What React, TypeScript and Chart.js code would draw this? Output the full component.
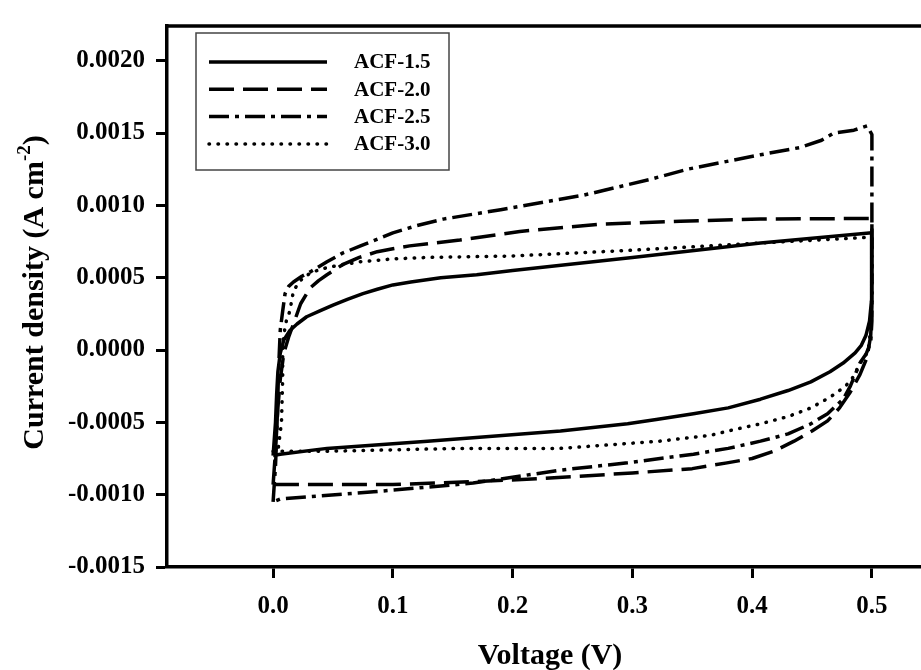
import React, { useEffect, useRef } from "react";
import { Chart, registerables } from "chart.js";

Chart.register(...registerables);

// ---- data ----
const seriesLabels = ["ACF-1.5", "ACF-2.0", "ACF-2.5", "ACF-3.0"];
const voltageTicks = [0, 0.1, 0.2, 0.3, 0.4, 0.5];
const currentTicks = [-0.0015, -0.001, -0.0005, 0, 0.0005, 0.001, 0.0015, 0.002];

const acf15Voltage = [0, 0.002, 0.003, 0.004, 0.006, 0.009, 0.014, 0.02, 0.028, 0.039, 0.05, 0.062, 0.075, 0.087, 0.1, 0.115, 0.14, 0.17, 0.2, 0.3, 0.407, 0.5,
  0.5, 0.4995, 0.498, 0.495, 0.491, 0.486, 0.476, 0.465, 0.449, 0.43, 0.407, 0.38, 0.351, 0.32, 0.296, 0.24, 0.129, 0.045, 0.006, 0];
const acf15Current = [-0.00073, -0.0005, -0.0003, -0.00015, -0.00002, 0.00007, 0.000135, 0.00018, 0.00023, 0.00027, 0.00031, 0.00035, 0.00039, 0.00042, 0.00045, 0.00047, 0.0005, 0.00052, 0.00055, 0.00064, 0.00074, 0.00081,
  0.0006, 0.00035, 0.0002, 0.0001, 0.00003, -0.00002, -0.00009, -0.00015, -0.00022, -0.00028, -0.00034, -0.0004, -0.00044, -0.00048, -0.00051, -0.00056, -0.00063, -0.00068, -0.00072, -0.00073];

const acf20Voltage = [0, 0.002, 0.004, 0.006, 0.009, 0.013, 0.017, 0.023, 0.031, 0.038, 0.045, 0.058, 0.072, 0.087, 0.1, 0.114, 0.135, 0.156, 0.206, 0.273, 0.34, 0.407, 0.5,
  0.5, 0.5, 0.499, 0.496, 0.49, 0.482, 0.473, 0.463, 0.45, 0.435, 0.418, 0.4, 0.379, 0.35, 0.3, 0.22, 0.167, 0.1, 0.01, 0];
const acf20Current = [-0.00093, -0.0007, -0.0004, -0.0002, -0.00002, 0.00009, 0.00018, 0.00032, 0.00043, 0.00048, 0.00052, 0.00059, 0.00064, 0.00068, 0.0007, 0.00072, 0.00074, 0.00076, 0.00082, 0.00087, 0.00089, 0.000905, 0.00091,
  0.0006, 0.0003, 0.0001, -0.00005, -0.00017, -0.00029, -0.0004, -0.00049, -0.00056, -0.00063, -0.0007, -0.00075, -0.00078, -0.00082, -0.00085, -0.00089, -0.00091, -0.00093, -0.00093, -0.00093];

const acf25Voltage = [0, 0.002, 0.003, 0.004, 0.005, 0.006, 0.008, 0.01, 0.013, 0.017, 0.024, 0.031, 0.045, 0.058, 0.073, 0.1, 0.12, 0.142, 0.19, 0.259, 0.315, 0.346, 0.407, 0.44, 0.458, 0.468, 0.485, 0.496, 0.5,
  0.5, 0.5, 0.5, 0.499, 0.495, 0.49, 0.487, 0.482, 0.476, 0.463, 0.449, 0.43, 0.407, 0.38, 0.351, 0.296, 0.24, 0.167, 0.084, 0.006, 0];
const acf25Current = [-0.00105, -0.0008, -0.0006, -0.0003, -0.00005, 0.00014, 0.00027, 0.00039, 0.00044, 0.00047, 0.00051, 0.00054, 0.00061, 0.00067, 0.00072, 0.00081, 0.00086, 0.000905, 0.00097, 0.00107, 0.00118, 0.00125, 0.00135, 0.0014, 0.00145, 0.0015, 0.00152, 0.00155, 0.00149,
  0.001, 0.0005, 0.0002, 0.00005, -0.00003, -0.00009, -0.00015, -0.00025, -0.00034, -0.00044, -0.00051, -0.00058, -0.00063, -0.00068, -0.00072, -0.00078, -0.00083, -0.00092, -0.00098, -0.00103, -0.00105];

const acf30Voltage = [0, 0.004, 0.007, 0.008, 0.008, 0.009, 0.011, 0.014, 0.017, 0.021, 0.025, 0.033, 0.045, 0.058, 0.073, 0.1, 0.129, 0.2, 0.3, 0.407, 0.5,
  0.5, 0.499, 0.497, 0.494, 0.49, 0.485, 0.479, 0.47, 0.46, 0.449, 0.43, 0.407, 0.385, 0.365, 0.323, 0.24, 0.156, 0.045, 0.006, 0];
const acf30Current = [-0.0007, -0.0007, -0.0005, -0.0002, 0.0, 0.00011, 0.0002, 0.00027, 0.00041, 0.00046, 0.0005, 0.00054, 0.00057, 0.00059, 0.00061, 0.00063, 0.00064, 0.00065, 0.00069, 0.00074, 0.00078,
  0.0004, 0.00015, 0.0, -0.00005, -0.00009, -0.00018, -0.00024, -0.0003, -0.00035, -0.0004, -0.00046, -0.00051, -0.00055, -0.00059, -0.00063, -0.00068, -0.00068, -0.0007, -0.0007, -0.0007];

const FONT = '"Liberation Serif", "Times New Roman", serif';

const toPoints = (xs: number[], ys: number[]) => xs.map((x, i) => ({ x, y: ys[i] }));

const decorPlugin = {
  id: "decor",
  afterDraw(chart: any) {
    const ctx: CanvasRenderingContext2D = chart.ctx;
    const a = chart.chartArea;
    ctx.save();
    // top frame line
    ctx.strokeStyle = "#000";
    ctx.lineWidth = 3.5;
    ctx.setLineDash([]);
    ctx.beginPath();
    ctx.moveTo(a.left - 1.5, a.top);
    ctx.lineTo(a.right, a.top);
    ctx.stroke();

    // legend box
    const bx = a.left + 29, by = a.top + 7, bw = 253, bh = 137;
    ctx.fillStyle = "#fff";
    ctx.fillRect(bx, by, bw, bh);
    ctx.strokeStyle = "#444";
    ctx.lineWidth = 1.5;
    ctx.strokeRect(bx, by, bw, bh);
    chart.data.datasets.forEach((ds: any, i: number) => {
      const y = by + 29 + i * 27.3;
      ctx.strokeStyle = "#000";
      ctx.lineWidth = ds.borderWidth;
      ctx.lineCap = ds.borderCapStyle || "butt";
      ctx.setLineDash(ds.borderDash || []);
      ctx.beginPath();
      ctx.moveTo(bx + 13, y);
      ctx.lineTo(bx + 131, y);
      ctx.stroke();
      ctx.setLineDash([]);
      ctx.fillStyle = "#000";
      ctx.font = `bold 21px ${FONT}`;
      ctx.textAlign = "left";
      ctx.textBaseline = "middle";
      ctx.fillText(ds.label, bx + 158, y + 1);
    });

    // x axis title
    ctx.fillStyle = "#000";
    ctx.font = `bold 30px ${FONT}`;
    ctx.textAlign = "center";
    ctx.textBaseline = "alphabetic";
    ctx.fillText("Voltage (V)", 550, 664);

    // y axis title with superscript
    const main = "Current density (A cm";
    const sup = "-2";
    const end = ")";
    ctx.font = `bold 30px ${FONT}`;
    const w1 = ctx.measureText(main).width;
    const w3 = ctx.measureText(end).width;
    ctx.font = `bold 19px ${FONT}`;
    const w2 = ctx.measureText(sup).width;
    const total = w1 + w2 + w3;
    ctx.translate(32, (a.top + a.bottom) / 2 - 4);
    ctx.rotate(-Math.PI / 2);
    ctx.textAlign = "left";
    let sx = -total / 2;
    const base = 11;
    ctx.font = `bold 30px ${FONT}`;
    ctx.fillText(main, sx, base);
    sx += w1;
    ctx.font = `bold 19px ${FONT}`;
    ctx.fillText(sup, sx, base - 13);
    sx += w2;
    ctx.font = `bold 30px ${FONT}`;
    ctx.fillText(end, sx, base);
    ctx.restore();
  },
};

export default function App() {
  const canvasRef = useRef<HTMLCanvasElement | null>(null);

  useEffect(() => {
    if (!canvasRef.current) return;
    const common = { pointRadius: 0, fill: false, tension: 0, borderColor: "#000", borderWidth: 3.5, borderJoinStyle: "round" };
    const chart = new Chart(canvasRef.current, {
      type: "line",
      data: {
        datasets: [
          { ...common, label: seriesLabels[0], data: toPoints(acf15Voltage, acf15Current), borderDash: [] },
          { ...common, label: seriesLabels[1], data: toPoints(acf20Voltage, acf20Current), borderDash: [25, 9] },
          { ...common, label: seriesLabels[2], data: toPoints(acf25Voltage, acf25Current), borderDash: [20, 6, 4, 6] },
          { ...common, label: seriesLabels[3], data: toPoints(acf30Voltage, acf30Current), borderDash: [0.5, 8.5], borderCapStyle: "round" },
        ],
      } as any,
      plugins: [decorPlugin],
      options: {
        animation: false,
        responsive: false,
        maintainAspectRatio: false,
        layout: { padding: { top: 16, right: 0, left: 0, bottom: 0 } },
        plugins: { legend: { display: false }, tooltip: { enabled: false } },
        scales: {
          x: {
            type: "linear",
            min: -0.0886,
            max: 0.541,
            afterBuildTicks: (scale: any) => {
              scale.ticks = voltageTicks.map((v) => ({ value: v }));
            },
            afterFit: (scale: any) => {
              scale.height = 103;
            },
            grid: { display: true, drawOnChartArea: false, drawTicks: true, tickLength: 11, tickWidth: 3, tickColor: "#000" },
            border: { display: true, color: "#000", width: 3.5 },
            ticks: {
              color: "#000",
              padding: 14,
              maxRotation: 0,
              font: { family: FONT, size: 25, weight: "bold" },
              callback: (v: any) => Number(v).toFixed(1),
            },
          },
          y: {
            type: "linear",
            min: -0.0015,
            max: 0.00224,
            afterBuildTicks: (scale: any) => {
              scale.ticks = currentTicks.map((v) => ({ value: v }));
            },
            afterFit: (scale: any) => {
              scale.width = 167;
            },
            grid: { display: true, drawOnChartArea: false, drawTicks: true, tickLength: 11, tickWidth: 3, tickColor: "#000" },
            border: { display: true, color: "#000", width: 3.5 },
            ticks: {
              color: "#000",
              padding: 11,
              font: { family: FONT, size: 25, weight: "bold" },
              callback: (v: any) => {
                const n = Math.abs(Number(v)) < 1e-10 ? 0 : Number(v);
                return n.toFixed(4);
              },
            },
          },
        },
      } as any,
    });
    return () => chart.destroy();
  }, []);

  return (
    <div style={{ position: "absolute", left: 0, top: 0, width: 921, height: 670, background: "#fff" }}>
      <canvas ref={canvasRef} width={921} height={670} style={{ display: "block" }} />
    </div>
  );
}
